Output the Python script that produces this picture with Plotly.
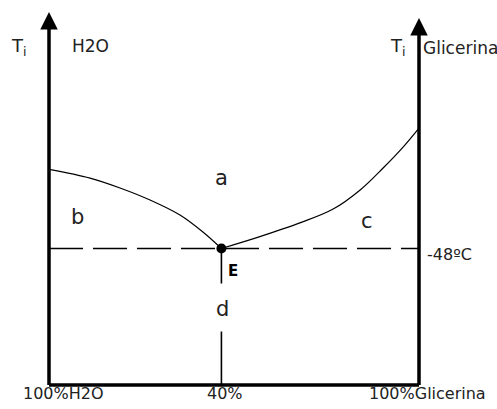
import plotly.graph_objects as go

# ---- data (x: % glicerina position on the diagram, y: temperature °C, schematic) ----
liq_h2o_x = [0, 11.1, 19.2, 27.3, 35.4, 41.6, 46.6]
liq_h2o_y = [0, -5.3, -11.3, -18.6, -27.7, -38.0, -48]
liq_gli_x = [46.6, 57.0, 67.8, 76.8, 84.1, 90.3, 95.7, 100]
liq_gli_y = [-48, -40.8, -32.5, -24.1, -12.5, 0.8, 13.5, 25]
eutectic_x = [46.6]
eutectic_t = [-48]
x_ticks = [0, 46.6, 100]
x_tick_labels = ["100%H2O", "40%", "100%Glicerina"]
eutectic_label = "-48ºC"
region_labels = ["a", "b", "c", "d"]
region_x = [46.5, 7.8, 85.9, 46.8]
region_y = [-5.0, -29.2, -31.6, -84.7]

T_BOTTOM = -130.7
T_TOP_LEFT = 95.3
T_TOP_RIGHT = 91.7

FONT = "DejaVu Sans"
fig = go.Figure()

# liquidus curves
fig.add_trace(go.Scatter(x=liq_h2o_x, y=liq_h2o_y, mode="lines",
                         line=dict(color="black", width=1.2, shape="spline")))
fig.add_trace(go.Scatter(x=liq_gli_x, y=liq_gli_y, mode="lines",
                         line=dict(color="black", width=1.2, shape="spline")))

# eutectic horizontal dashed line
fig.add_trace(go.Scatter(x=[x_ticks[0], x_ticks[2]], y=[eutectic_t[0], eutectic_t[0]], mode="lines",
                         line=dict(color="black", width=1.6, dash="34px,10px")))
# vertical dashed line from E down
fig.add_trace(go.Scatter(x=[eutectic_x[0], eutectic_x[0]], y=[eutectic_t[0], T_BOTTOM], mode="lines",
                         line=dict(color="black", width=1.6, dash="35px,48px,53px,10px")))

# bottom axis
fig.add_trace(go.Scatter(x=[x_ticks[0], x_ticks[2]], y=[T_BOTTOM, T_BOTTOM], mode="lines",
                         line=dict(color="black", width=3.5)))

# eutectic point
fig.add_trace(go.Scatter(x=eutectic_x, y=eutectic_t, mode="markers",
                         marker=dict(color="black", size=10)))

# vertical axes with arrows
for xv, top in [(x_ticks[0], T_TOP_LEFT), (x_ticks[2], T_TOP_RIGHT)]:
    fig.add_annotation(x=xv, y=top, ax=xv, ay=T_BOTTOM - 1, axref="x", ayref="y",
                       xref="x", yref="y", text="", showarrow=True,
                       arrowhead=2, arrowwidth=3.5, arrowsize=1.0, arrowcolor="black",
                       standoff=0, startstandoff=0)

# region labels
for t, xv, yv in zip(region_labels, region_x, region_y):
    fig.add_annotation(x=xv, y=yv, text=t, showarrow=False,
                       font=dict(family=FONT, size=21, color="#222"),
                       xanchor="center", yanchor="middle")

# E label
fig.add_annotation(x=49.7, y=-61.9, text="<b>E</b>", showarrow=False,
                   font=dict(family=FONT, size=15, color="black"),
                   xanchor="center", yanchor="middle")

# -48ºC label
fig.add_annotation(x=101.6, y=-51.9, text=eutectic_label, showarrow=False,
                   font=dict(family=FONT, size=16, color="#222"),
                   xanchor="left", yanchor="middle")

# axis titles
fig.add_annotation(x=-10.8, y=74.0, text="T<sub>i</sub>", showarrow=False,
                   font=dict(family=FONT, size=18, color="#222"),
                   xanchor="left", yanchor="middle")
fig.add_annotation(x=11.1, y=74.7, text="H2O", showarrow=False,
                   font=dict(family=FONT, size=17, color="#222"),
                   xanchor="center", yanchor="middle")
fig.add_annotation(x=91.6, y=74.0, text="T<sub>i</sub>", showarrow=False,
                   font=dict(family=FONT, size=18, color="#222"),
                   xanchor="left", yanchor="middle")
fig.add_annotation(x=100.5, y=73.5, text="Glicerina", showarrow=False,
                   font=dict(family=FONT, size=17, color="#222"),
                   xanchor="left", yanchor="middle")

# bottom tick labels
tick_shift = [14, 4, 8]
for xv, lab, sh in zip(x_ticks, x_tick_labels, tick_shift):
    fig.add_annotation(x=xv, y=-135.6, text=lab, showarrow=False, xshift=sh,
                       font=dict(family=FONT, size=16, color="#222"),
                       xanchor="center", yanchor="middle")

fig.update_layout(
    width=497, height=409,
    margin=dict(l=0, r=0, t=0, b=0),
    paper_bgcolor="white", plot_bgcolor="white",
    showlegend=False,
    xaxis=dict(range=[-49 / 3.7, 448 / 3.7], visible=False, fixedrange=True),
    yaxis=dict(range=[-48 - 160.5 / 1.65, -48 + 248.5 / 1.65], visible=False, fixedrange=True),
)

fig.write_html("out.html", config={"displayModeBar": False},
               post_script="document.body.style.margin='0';document.body.style.overflow='hidden';")
